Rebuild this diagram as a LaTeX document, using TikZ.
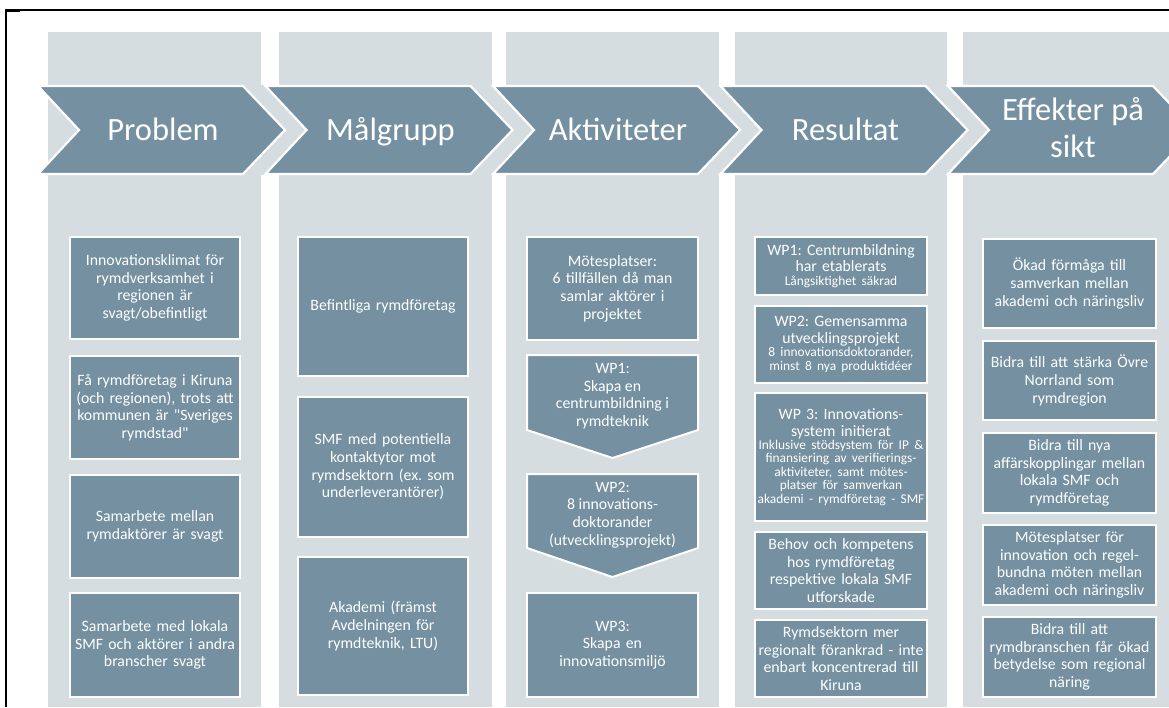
\documentclass[tikz,border=0pt]{standalone}
\usepackage{fontspec}
\setmainfont{Carlito}
\definecolor{bandc}{RGB}{214,221,225}
\definecolor{boxc}{RGB}{116,144,161}
\newcommand{\bigt}{\fontsize{15.8}{16.6}\selectfont}
\newcommand{\smallt}{\fontsize{13.4}{13.4}\selectfont}
\newcommand{\cenln}[1]{\makebox[\linewidth][c]{#1}}
\frenchspacing
\hyphenpenalty=10000
\exhyphenpenalty=10000
\begin{document}
\begin{tikzpicture}[x=1pt,y=-1pt,
  band/.style={fill=bandc, draw=none},
  chev/.style={fill=boxc, draw=white, line width=2.2pt, line join=miter},
  hdr/.style={text=white, align=center, inner sep=0pt, font=\fontsize{32.5}{37}\selectfont},
  box/.style={fill=boxc, draw=white, line width=2pt, text=white, align=center, inner xsep=0pt, inner ysep=0pt, font=\fontsize{15.8}{17.6}\selectfont\frenchspacing},
  btxt/.style={text=white, align=center, inner sep=0pt, font=\fontsize{15.8}{17.6}\selectfont\frenchspacing},
]
\useasboundingbox (0,0) rectangle (1169,707);
\clip (0,0) rectangle (1169,707);
\fill[white] (0,0) rectangle (1169,707);
% column bands
\fill[band] (48,32) rectangle (261,707);
\fill[band] (279,32) rectangle (492,707);
\fill[band] (506,32) rectangle (719,707);
\fill[band] (735,32) rectangle (947,707);
\fill[band] (963,32) rectangle (1180,707);
\fill[band] (48,85) rectangle (1180,175);
% frame
\draw[black, line width=1.5pt] (6,707) -- (6,10) -- (1169,10);
\draw[black, line width=2.6pt] (5.25,10.6) -- (20,10.6);
% chevrons
\foreach \L in {38,265.5,493,720.5,948}{
  \draw[chev] (\L,86) -- (\L+205,86) -- (\L+247,130) -- (\L+205,174) -- (\L,174) -- (\L+41,130) -- cycle;
}
\node[hdr, anchor=base] (h1) at (163,140) {Problem};
\node[hdr, anchor=base] (h2) at (390.5,140) {Målgrupp};
\node[hdr, anchor=base] (h3) at (618,140) {Aktiviteter};
\node[hdr, anchor=base] (h4) at (845.5,140) {Resultat};
\node[hdr] (h5) at (1073,128) {Effekter på\\sikt};
% column 1: Problem
\node[box, minimum width=170pt, minimum height=102pt, text width=170pt] (p1) at (155,288) {Innovationsklimat för\\rymdverksamhet i\\regionen är\\svagt/obefintligt};
\node[box, minimum width=170pt, minimum height=103pt, text width=170pt] (p2) at (155,407.5) {Få rymdföretag i Kiruna\\(och regionen), trots att\\kommunen är \textquotedbl Sveriges\\rymdstad\textquotedbl};
\node[box, minimum width=170pt, minimum height=103pt, text width=170pt] (p3) at (155,526.5) {Samarbete mellan\\rymdaktörer är svagt};
\node[box, minimum width=170pt, minimum height=104pt, text width=170pt] (p4) at (155,645) {Samarbete med lokala\\SMF och aktörer i andra\\branscher svagt};
% column 2: Målgrupp
\node[box, minimum width=170pt, minimum height=139pt, text width=170pt] (m1) at (383,306.5) {Befintliga rymdföretag};
\node[box, minimum width=170pt, minimum height=140pt, text width=170pt] (m2) at (383,467) {SMF med potentiella\\kontaktytor mot\\rymdsektorn (ex. som\\underleverantörer)};
\node[box, minimum width=170pt, minimum height=138pt, text width=170pt] (m3) at (383,626) {Akademi (främst\\Avdelningen för\\rymdteknik, LTU)};
% column 3: Aktiviteter
\node[box, minimum width=171pt, minimum height=103pt, text width=171pt] (a1) at (612.5,288.5) {Mötesplatser:\\6 tillfällen då man\\samlar aktörer i\\projektet};
\draw[fill=boxc, draw=white, line width=2pt] (527,355) -- (698,355) -- (698,430) -- (612.5,458) -- (527,430) -- cycle;
\node[btxt] (a2) at (612.5,396) {WP1:\\Skapa en\\centrumbildning i\\rymdteknik};
\draw[fill=boxc, draw=white, line width=2pt] (527,474) -- (698,474) -- (698,548) -- (612.5,577) -- (527,548) -- cycle;
\node[btxt] (a3) at (612.5,515) {WP2:\\8 innovations-\\doktorander\\(utvecklingsprojekt)};
\node[box, minimum width=171pt, minimum height=104pt, text width=171pt] (a4) at (612.5,645) {WP3:\\Skapa en\\innovationsmiljö};
% column 4: Resultat
\node[box, minimum width=172pt, minimum height=58pt, text width=172pt] (r1) at (841,266) {{\bigt WP1: Centrumbildning\\har etablerats\par}{\smallt Långsiktighet säkrad\par}};
\node[box, minimum width=172pt, minimum height=77pt, text width=172pt] (r2) at (841,344.5) {{\bigt WP2: Gemensamma\\utvecklingsprojekt\par}{\smallt 8 innovationsdoktorander,\\minst 8 nya produktidéer\par}};
\node[box, minimum width=172pt, minimum height=128pt, text width=172pt] (r3) at (841,457) {{\bigt WP 3: Innovations-\\system initierat\par}{\smallt \cenln{Inklusive stödsystem för IP \&}\\\cenln{finansiering av verifierings-}\\\cenln{aktiviteter, samt mötes-}\\\cenln{platser för samverkan}\\\cenln{akademi - rymdföretag - SMF}\par}};
\node[box, minimum width=172pt, minimum height=77pt, text width=172pt] (r4) at (841,570.5) {Behov och kompetens\\hos rymdföretag\\respektive lokala SMF\\utforskade};
\node[box, minimum width=172pt, minimum height=77pt, text width=172pt] (r5) at (841,658.5) {Rymdsektorn mer\\regionalt förankrad - inte\\enbart koncentrerad till\\Kiruna};
% column 5: Effekter på sikt
\node[box, minimum width=173pt, minimum height=89pt, text width=173pt] (e1) at (1069.5,283.5) {Ökad förmåga till\\samverkan mellan\\akademi och näringsliv};
\node[box, minimum width=173pt, minimum height=79pt, text width=173pt] (e2) at (1069.5,380.5) {Bidra till att stärka Övre\\Norrland som\\rymdregion};
\node[box, minimum width=173pt, minimum height=80pt, text width=173pt] (e3) at (1069.5,473) {Bidra till nya\\affärskopplingar mellan\\lokala SMF och\\rymdföretag};
\node[box, minimum width=173pt, minimum height=80pt, text width=173pt] (e4) at (1069.5,565) {Mötesplatser för\\innovation och regel-\\bundna möten mellan\\akademi och näringsliv};
\node[box, minimum width=173pt, minimum height=80pt, text width=173pt] (e5) at (1069.5,657) {Bidra till att\\rymdbranschen får ökad\\betydelse som regional\\näring};
\end{tikzpicture}
\end{document}
